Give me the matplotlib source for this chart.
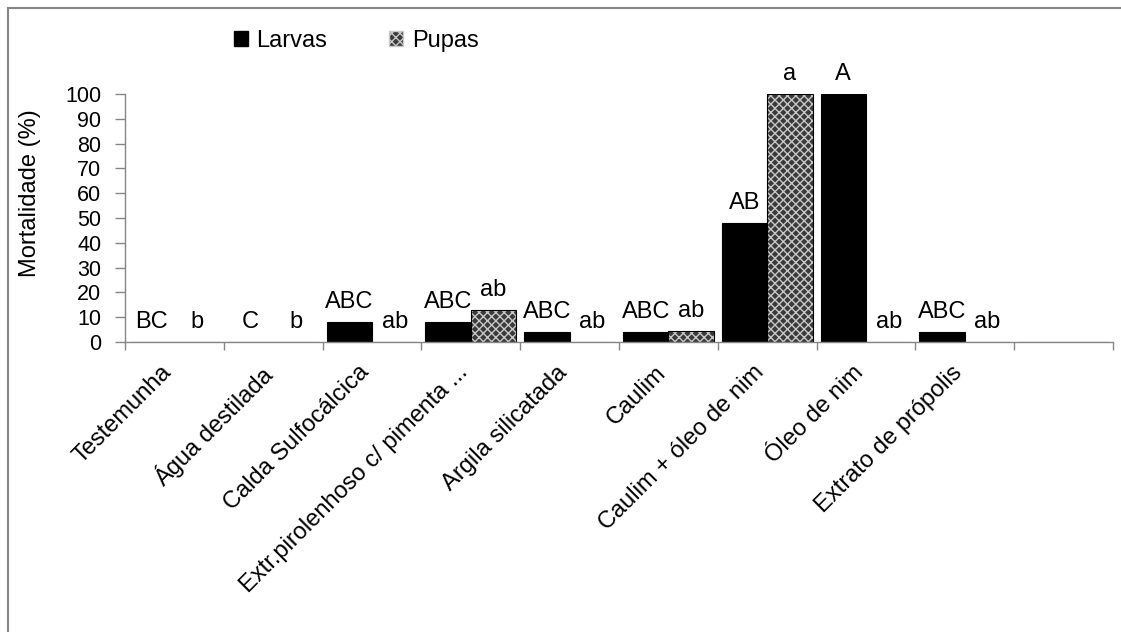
import matplotlib
matplotlib.use("Agg")
import matplotlib.pyplot as plt
from matplotlib.patches import Patch
from matplotlib.lines import Line2D
from matplotlib.transforms import ScaledTranslation
import numpy as np

plt.rcParams['font.family'] = ['Liberation Sans', 'DejaVu Sans']

categories = ["Testemunha", "Água destilada", "Calda Sulfocálcica",
              "Extr.pirolenhoso c/ pimenta ...", "Argila silicatada", "Caulim",
              "Caulim + óleo de nim", "Óleo de nim", "Extrato de própolis", ""]
larvas = [0, 0, 8, 8, 4, 4, 48, 100, 4, 0]
pupas = [0, 0, 0, 13, 0, 4.5, 100, 0, 0, 0]
larvas_letters = ["BC", "C", "ABC", "ABC", "ABC", "ABC", "AB", "A", "ABC", None]
pupas_letters = ["b", "b", "ab", "ab", "ab", "ab", "a", "ab", "ab", None]
yticks = [0, 10, 20, 30, 40, 50, 60, 70, 80, 90, 100]

W, H = 1121, 632
fig = plt.figure(figsize=(W / 100, H / 100), dpi=100)
ax = fig.add_axes([125 / W, 1 - 342 / H, (1113 - 125) / W, (342 - 94) / H])

x = np.arange(len(categories))
bw = 0.46
gray = '#868686'
fs_letters = 17
fs_ticks = 15.5

ax.bar(x - bw / 2, larvas, bw, color='black', edgecolor='black', linewidth=0.8)
ax.bar(x + bw / 2, pupas, bw, color='#3a3a3a', edgecolor='#c8c8c8', hatch='xxxx', linewidth=0)
ax.bar(x + bw / 2, pupas, bw, fill=False, edgecolor='black', linewidth=0.8)

for i in range(len(categories)):
    if larvas_letters[i]:
        ax.annotate(larvas_letters[i], (x[i] - bw / 2, larvas[i]), xytext=(0, 10),
                    textcoords='offset points', ha='center', va='baseline', fontsize=fs_letters)
    if pupas_letters[i]:
        ax.annotate(pupas_letters[i], (x[i] + bw / 2, pupas[i]), xytext=(0, 10),
                    textcoords='offset points', ha='center', va='baseline', fontsize=fs_letters)

ax.set_xlim(-0.5, len(categories) - 0.5)
ax.set_ylim(0, 100)
ax.set_yticks(yticks)
ax.set_yticklabels([str(v) for v in yticks], fontsize=fs_ticks)
ax.set_xticks(np.arange(len(categories) + 1) - 0.5)
ax.set_xticklabels([])
ax.set_xticks(x, minor=True)
ax.set_xticklabels(categories, minor=True, rotation=45, ha='right',
                   rotation_mode='anchor', fontsize=fs_letters)
ax.tick_params(axis='x', which='minor', length=0, pad=14)
ax.tick_params(axis='x', which='major', length=6, color=gray, width=1, direction='out')
ax.tick_params(axis='y', length=7, color=gray, width=1, direction='out', pad=10)

shift = ScaledTranslation(-14 / 100, 0, fig.dpi_scale_trans)
for lab in ax.get_xticklabels(minor=True):
    lab.set_transform(lab.get_transform() + shift)

for s in ['top', 'right']:
    ax.spines[s].set_visible(False)
for s in ['left', 'bottom']:
    ax.spines[s].set_color(gray)
    ax.spines[s].set_linewidth(1)

fig.text(30 / W, 1 - 193 / H, "Mortalidade (%)", rotation=90, ha='center', va='center',
         fontsize=fs_letters)

handles = [Patch(facecolor='black', edgecolor='black'),
           Patch(facecolor='#3a3a3a', edgecolor='#c8c8c8', hatch='xxxx')]
fig.legend(handles, ["Larvas", "Pupas"], loc='center', bbox_to_anchor=(356 / W, 1 - 41 / H),
           ncol=2, frameon=False, fontsize=fs_letters, handlelength=0.62, handleheight=0.62,
           handletextpad=0.35, columnspacing=2.6)

# figure frame (top and left visible)
fig.add_artist(Line2D([8 / W, 1], [1 - 8 / H, 1 - 8 / H], color=gray, lw=1.5, transform=fig.transFigure))
fig.add_artist(Line2D([8 / W, 8 / W], [0, 1 - 8 / H], color=gray, lw=1.5, transform=fig.transFigure))

fig.savefig("out.png", dpi=100)
